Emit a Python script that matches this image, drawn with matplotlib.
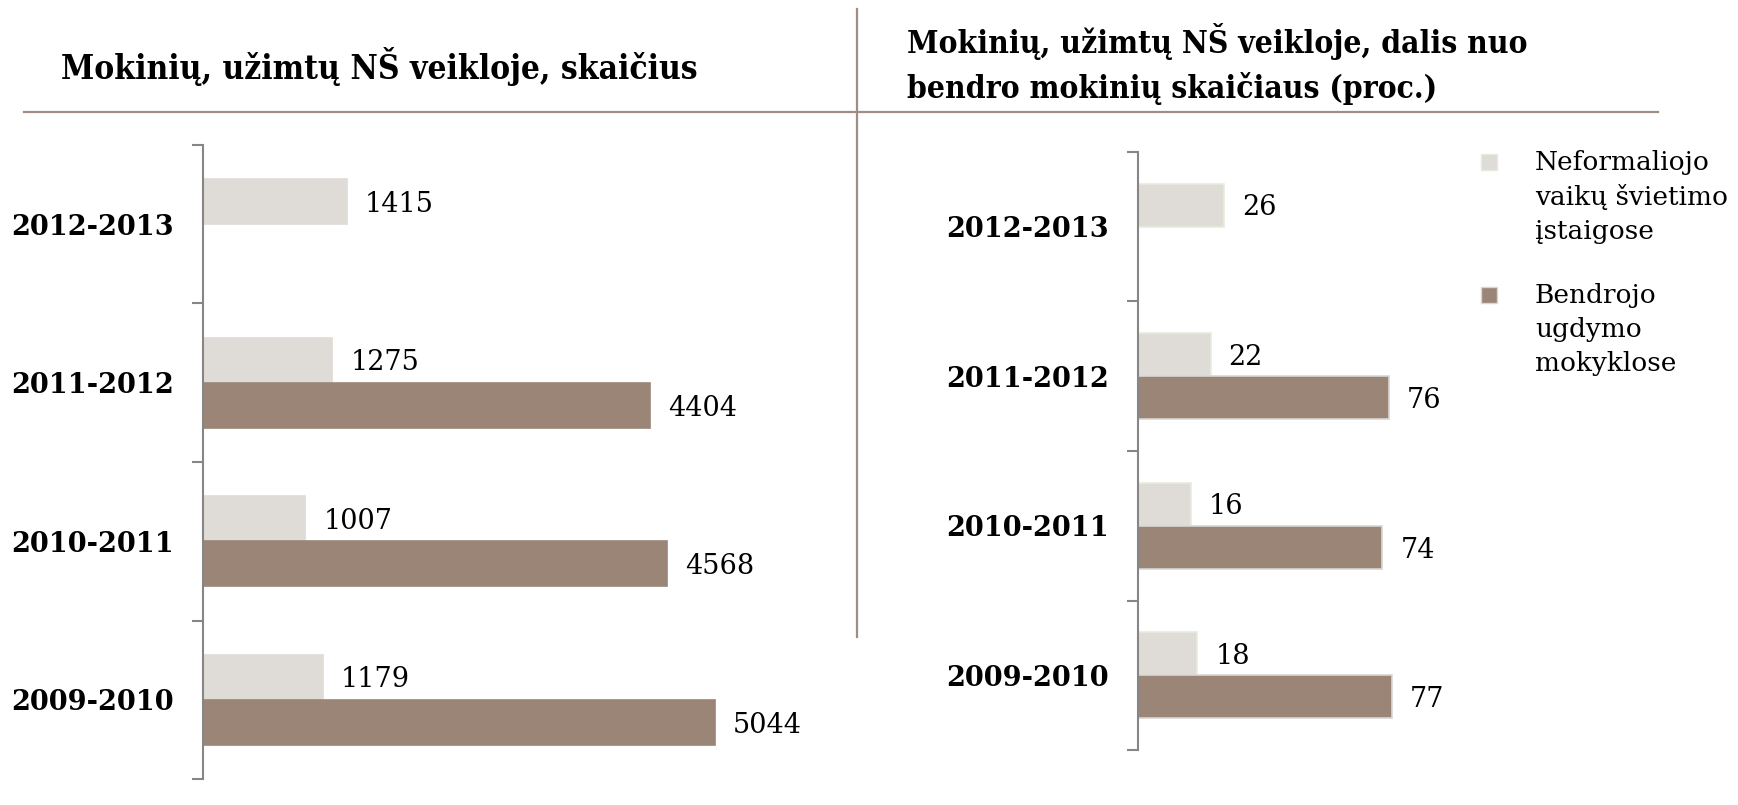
import matplotlib
matplotlib.use("Agg")
import matplotlib.pyplot as plt
import numpy as np
from matplotlib.lines import Line2D
from matplotlib.patches import Rectangle

categories = ["2009-2010", "2010-2011", "2011-2012", "2012-2013"]
count_nonformal = [1179, 1007, 1275, 1415]
count_general = [5044, 4568, 4404, None]
share_nonformal = [18, 16, 22, 26]
share_general = [77, 74, 76, None]
legend_labels = ["Neformaliojo\nvaikų švietimo\nįstaigose", "Bendrojo\nugdymo\nmokyklose"]
title_left = "Mokinių, užimtų NŠ veikloje, skaičius"
title_right = "Mokinių, užimtų NŠ veikloje, dalis nuo\nbendro mokinių skaičiaus (proc.)"

LIGHT = "#dfdbd6"
DARK = "#9a8577"
AXC = "#868686"
RULE = "#a08e84"
SERIF = "DejaVu Serif"

W, H = 1738, 805
fig = plt.figure(figsize=(W / 100, H / 100), dpi=100)


def fx(px):
    return px / W


def fy(py):
    return 1 - py / H


def draw(ax, a, b, xmax, bh, light_edge, dark_edge):
    y = np.arange(len(categories))
    for i in range(len(categories)):
        ax.barh(y[i] + bh / 2, a[i], height=bh, color=LIGHT, edgecolor=light_edge, linewidth=1.2)
        ax.annotate(str(a[i]), (a[i], y[i] + bh / 2), xytext=(13, -2), textcoords="offset points",
                    va="center", ha="left", fontsize=19.5, family=SERIF)
        if b[i] is not None:
            ax.barh(y[i] - bh / 2, b[i], height=bh, color=DARK, edgecolor=dark_edge, linewidth=1.2)
            ax.annotate(str(b[i]), (b[i], y[i] - bh / 2), xytext=(13, -2), textcoords="offset points",
                        va="center", ha="left", fontsize=19.5, family=SERIF)
    ax.set_xlim(0, xmax)
    ax.set_ylim(-0.5, len(categories) - 0.5)
    for s in ["top", "right", "bottom"]:
        ax.spines[s].set_visible(False)
    ax.spines["left"].set_color(AXC)
    ax.spines["left"].set_linewidth(1.5)
    ax.set_xticks([])
    ax.set_yticks(np.arange(len(categories) + 1) - 0.5)
    ax.set_yticklabels([])
    ax.tick_params(axis="y", which="major", length=8, color=AXC, width=1.5, direction="out")
    ax.set_yticks(y, minor=True)
    ax.set_yticklabels(categories, minor=True, fontsize=19.5, fontweight="bold", family=SERIF)
    ax.tick_params(axis="y", which="minor", length=0, pad=21)


ax1 = fig.add_axes([fx(203), fy(779), fx(812 - 203), (779 - 145) / H])
draw(ax1, count_nonformal, count_general, 6000, 0.285, LIGHT, DARK)

ax2 = fig.add_axes([fx(1138), fy(750), fx(330), (750 - 152) / H])
draw(ax2, share_nonformal, share_general, 100, 0.288, "#e6ecdc", "#d9d6d3")

# titles
fig.text(fx(61), fy(66), title_left, fontsize=24, fontweight="bold", family=SERIF,
         fontstretch="condensed", va="center", ha="left")
fig.text(fx(907), fy(64), title_right, fontsize=22.8, fontweight="bold", family=SERIF,
         fontstretch="condensed", va="center", ha="left", linespacing=1.45)

# rules
fig.add_artist(Line2D([fx(24), fx(1658)], [fy(112), fy(112)], color=RULE, lw=1.6))
fig.add_artist(Line2D([fx(857), fx(857)], [fy(9), fy(637)], color=RULE, lw=1.6))

# legend
for (ty, col, ec), lab in zip([(162, LIGHT, "#e6ecdc"), (295, DARK, "#d9d6d3")], legend_labels):
    fig.add_artist(Rectangle((fx(1481), fy(ty + 8)), fx(16), 16 / H, facecolor=col, edgecolor=ec, lw=1))
    fig.text(fx(1535), fy(ty - 12), lab, fontsize=19, family=SERIF, va="top", ha="left",
             linespacing=1.45)

fig.savefig("out.png", dpi=100)
